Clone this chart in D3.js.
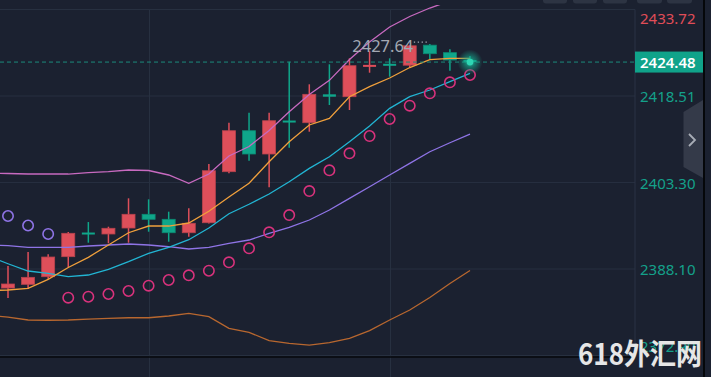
<!DOCTYPE html>
<html><head><meta charset="utf-8">
<script src="https://cdn.jsdelivr.net/npm/d3@7"></script>
<style>html,body{margin:0;padding:0;background:#1b2130;overflow:hidden}svg{display:block}</style>
</head><body><svg id="c" width="711" height="377"></svg>
<script>
// candle index -1 is the partially off-screen bar at the left edge
const bars = d3.range(-1, 24);
const opens  = [2386.20,2384.76,2385.41,2386.75,2390.27,2394.40,2394.26,2395.31,2397.72,2396.84,2394.48,2396.24,2405.21,2412.41,2408.32,2414.10,2413.82,2418.81,2418.39,2423.66,2424.09,2423.93,2427.45,2426.13,2424.84];
const closes = [2384.90,2385.47,2386.64,2390.21,2394.38,2394.28,2395.26,2397.72,2396.84,2394.48,2396.14,2405.38,2412.41,2408.32,2414.17,2413.95,2418.81,2418.39,2423.84,2423.96,2423.91,2427.34,2425.95,2424.84,2424.48];
const highs  = [2387.10,2388.63,2391.09,2390.69,2394.61,2396.36,2395.54,2400.53,2400.35,2398.18,2398.77,2406.56,2413.82,2415.58,2415.58,2424.54,2420.57,2424.09,2425.14,2426.42,2425.14,2427.40,2427.64,2426.72,2425.55];
const lows   = [2383.80,2383.00,2384.59,2386.29,2388.40,2392.73,2392.62,2392.73,2394.66,2392.90,2393.78,2396.10,2404.93,2407.14,2402.46,2409.41,2412.24,2416.93,2416.05,2422.61,2421.91,2423.49,2424.97,2422.96,2424.30];
// indicators
const maFast = [2384.32,2384.41,2384.71,2386.29,2388.37,2390.16,2392.32,2394.48,2395.66,2395.66,2396.19,2398.25,2400.76,2403.17,2406.96,2410.48,2413.42,2414.59,2418.39,2420.15,2421.68,2423.52,2424.90,2425.14,2425.14];
const maMid  = [2390.39,2389.03,2387.75,2387.35,2386.75,2387.05,2388.05,2389.39,2390.86,2391.92,2393.25,2395.31,2397.82,2399.48,2401.29,2403.45,2405.80,2407.84,2410.48,2413.24,2416.35,2418.39,2419.57,2421.03,2422.50];
const maSlow = [2392.32,2392.23,2391.92,2391.92,2391.92,2392.15,2392.32,2392.50,2392.32,2392.02,2391.62,2391.92,2392.62,2393.20,2394.38,2395.43,2396.72,2398.47,2400.53,2402.57,2404.63,2406.68,2408.72,2410.30,2411.83];
const bbUpper = [2404.93,2404.89,2404.80,2404.80,2404.80,2405.03,2405.21,2405.51,2405.42,2404.63,2403.17,2404.80,2407.97,2409.64,2412.45,2415.75,2418.78,2421.27,2424.93,2428.01,2430.64,2432.49,2433.98,2435.21,2436.27];
const bbLower = [2379.93,2379.66,2379.14,2379.10,2379.14,2379.31,2379.44,2379.54,2379.54,2379.84,2380.32,2379.72,2377.68,2376.97,2375.50,2375.04,2374.74,2375.15,2375.92,2377.26,2379.14,2380.89,2383.09,2385.55,2387.84];
const sar = [null,2397.42,2395.75,2394.26,2383.06,2383.23,2383.71,2384.24,2385.17,2386.17,2387.00,2387.80,2389.28,2391.74,2394.55,2397.59,2401.81,2405.45,2408.44,2411.48,2414.47,2416.81,2418.99,2420.92,2422.21];
const tickValues = [2433.72, 2418.51, 2403.30, 2388.10, 2372.90];
const lastPrice = 2424.48;
const highLabel = 2427.64, highIndex = 22; // position in arrays (bar 21)
const timeGridBars = [7, 19];

const RED = "#de4f5a", GREEN = "#0fa68a";
const svg = d3.select("#c");
const W = 711, H = 377, plotR = 635, plotB = 357;
const x = d3.scaleLinear().domain([0, 23]).range([8, 470]);
const y = d3.scaleLinear().domain([2372.90, 2433.72]).range([355.5, 9.5]);

svg.append("rect").attr("width", W).attr("height", H).attr("fill", "#1b2130");
const defs = svg.append("defs");
defs.append("clipPath").attr("id", "plot").append("rect").attr("x", 0).attr("y", 5).attr("width", plotR).attr("height", plotB - 5);
const rg = defs.append("radialGradient").attr("id", "glow");
rg.append("stop").attr("offset", "0%").attr("stop-color", "#1fc7a6").attr("stop-opacity", 0.95);
rg.append("stop").attr("offset", "45%").attr("stop-color", "#14a88c").attr("stop-opacity", 0.55);
rg.append("stop").attr("offset", "100%").attr("stop-color", "#14a88c").attr("stop-opacity", 0);

// grid
const grid = svg.append("g");
grid.selectAll("line.h").data(tickValues).join("line")
  .attr("x1", 0).attr("x2", plotR).attr("y1", d => y(d)).attr("y2", d => y(d))
  .attr("stroke", "#273040").attr("stroke-width", 1);
grid.selectAll("line.v").data(timeGridBars).join("line")
  .attr("x1", d => Math.round(x(d)) + 0.5).attr("x2", d => Math.round(x(d)) + 0.5).attr("y1", 9.5).attr("y2", H)
  .attr("stroke", "#273040").attr("stroke-width", 1);
grid.append("line").attr("x1", plotR).attr("x2", plotR).attr("y1", 9.5).attr("y2", plotB)
  .attr("stroke", "#2a3344").attr("stroke-width", 1);
grid.append("line").attr("x1", 0).attr("x2", plotR).attr("y1", plotB).attr("y2", plotB)
  .attr("stroke", "#07090d").attr("stroke-width", 1.5);

const plot = svg.append("g").attr("clip-path", "url(#plot)");
const xi = i => x(bars[i]);

// candles
const cg = plot.append("g");
bars.forEach((b, i) => {
  const up = closes[i] >= opens[i];
  const col = up ? RED : GREEN;
  const cx = x(b);
  cg.append("line").attr("x1", cx).attr("x2", cx).attr("y1", y(highs[i])).attr("y2", y(lows[i]))
    .attr("stroke", col).attr("stroke-width", 1.5);
  const top = y(Math.max(opens[i], closes[i])), bot = y(Math.min(opens[i], closes[i]));
  const h = Math.max(2, bot - top);
  cg.append("rect").attr("x", cx - 6.5).attr("y", h === 2 ? (top + bot) / 2 - 1 : top)
    .attr("width", 13).attr("height", h).attr("fill", col)
    .attr("stroke", up ? "#b8434d" : "#0c8a73").attr("stroke-width", h > 3 ? 0.8 : 0);
});

// lines
const lineGen = arr => d3.line().x((d, i) => xi(i)).y(d => y(d))(arr);
[[bbUpper, "#c86ac0"], [bbLower, "#b8672f"], [maSlow, "#8f74e6"], [maMid, "#22b5d3"], [maFast, "#f0a03c"]]
  .forEach(([arr, col]) => plot.append("path").attr("d", lineGen(arr)).attr("fill", "none")
    .attr("stroke", col).attr("stroke-width", 1.3));

// parabolic SAR
plot.selectAll("circle.sar").data(sar.map((v, i) => ({ v, i })).filter(d => d.v !== null)).join("circle")
  .attr("cx", d => xi(d.i)).attr("cy", d => y(d.v)).attr("r", 5.2).attr("fill", "none")
  .attr("stroke", d => d.v > highs[d.i] ? "#8f74e6" : "#d8327c").attr("stroke-width", 1.6);

// last price dashed line
svg.append("line").attr("x1", 0).attr("x2", plotR).attr("y1", y(lastPrice)).attr("y2", y(lastPrice))
  .attr("stroke", "#1c8b7a").attr("stroke-width", 1).attr("stroke-dasharray", "4,3");
// glow on last bar
svg.append("circle").attr("cx", xi(24)).attr("cy", y(lastPrice)).attr("r", 12.5).attr("fill", "url(#glow)");
svg.append("circle").attr("cx", xi(24)).attr("cy", y(lastPrice)).attr("r", 3.4).attr("fill", "#2fd6b4");

// high label
const hx = xi(highIndex), hy = y(highLabel) - 2;
svg.append("line").attr("x1", hx - 16).attr("x2", hx - 1).attr("y1", hy).attr("y2", hy)
  .attr("stroke", "#a3a8b3").attr("stroke-width", 1.3).attr("stroke-dasharray", "1.3,2.6");
svg.append("text").attr("x", hx - 16.5).attr("y", hy + 9.5).attr("text-anchor", "end")
  .attr("font-family", "Noto Sans, sans-serif").attr("font-size", 16.5).attr("fill", "#a3a8b3")
  .text(d3.format(".2f")(highLabel));

// right price axis
const axis = d3.axisRight(y).tickValues(tickValues).tickSize(0).tickPadding(0).tickFormat(d3.format(".2f"));
const ag = svg.append("g").attr("transform", "translate(640,0)").call(axis);
ag.select(".domain").remove();
ag.selectAll(".tick").attr("transform", d => `translate(0,${Math.min(347, Math.max(19.5, y(d) + 1.5))})`);
ag.selectAll("text").attr("font-family", "Noto Sans, sans-serif").attr("font-size", 15)
  .attr("fill", d => d > lastPrice ? "#e04d58" : "#14a08a");

// last price box
svg.append("rect").attr("x", 635).attr("y", y(lastPrice) - 10.5).attr("width", 68).attr("height", 21).attr("fill", "#10a38a");
svg.append("text").attr("x", 640).attr("y", y(lastPrice) + 5.5).attr("font-family", "Noto Sans, sans-serif")
  .attr("font-size", 15).attr("font-weight", 600).attr("fill", "#ffffff").text(d3.format(".2f")(lastPrice));

// top tool buttons
[[543, 567], [573, 597], [603, 627], [637, 662], [667, 692]].forEach(([a, b]) =>
  svg.append("rect").attr("x", a).attr("y", -5).attr("width", b - a).attr("height", 8.5).attr("rx", 3).attr("fill", "#2d3443"));

// side tab
svg.append("path").attr("d", "M703,100 L683.5,112 L683.5,167 L703,178 Z").attr("fill", "#343a49");
svg.append("path").attr("d", "M689,134 L695,140 L689,146").attr("fill", "none").attr("stroke", "#a8adb6").attr("stroke-width", 1.8);

// right border
svg.append("rect").attr("x", 703).attr("y", 0).attr("width", 2).attr("height", H).attr("fill", "#05070a");

// watermark (covers the lowest axis label, as in the original)
svg.append("text").attr("x", 578).attr("y", 365).attr("font-family", "Noto Sans CJK SC, sans-serif")
  .attr("font-size", 29).attr("font-weight", 700).attr("fill", "#e6e6e6")
  .attr("textLength", 124).attr("lengthAdjust", "spacingAndGlyphs").text("618外汇网");
</script></body></html>
